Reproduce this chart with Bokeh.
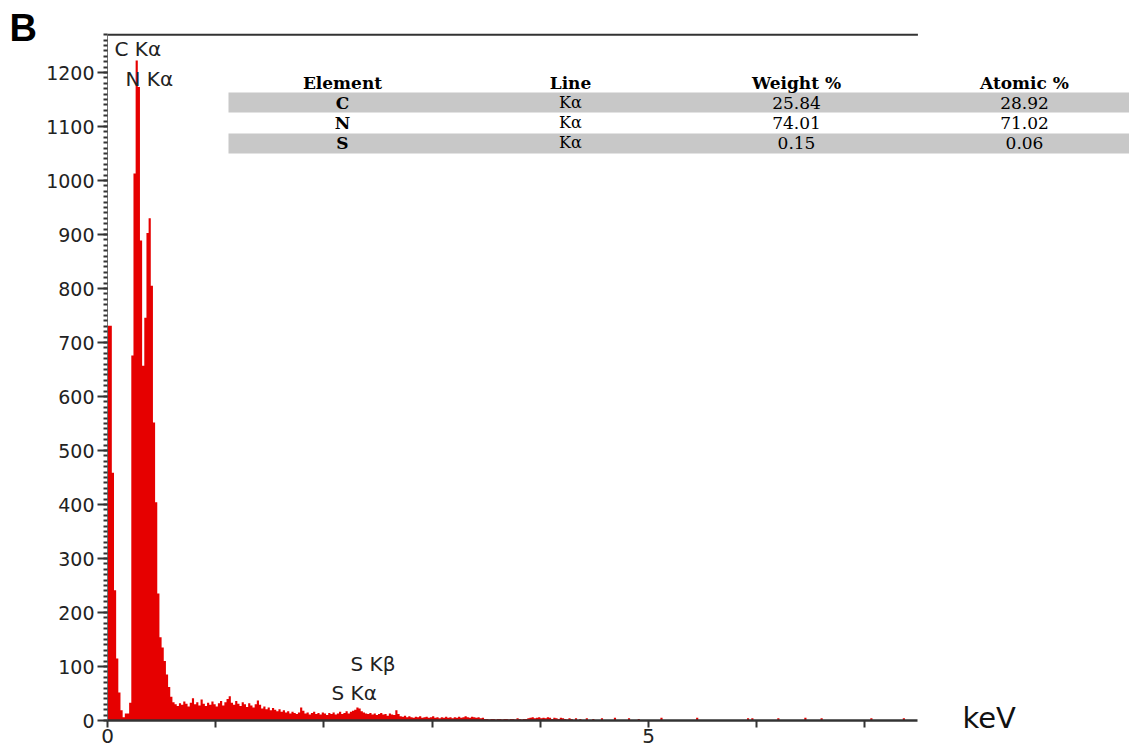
from bokeh.plotting import figure
from bokeh.models import Label, SingleIntervalTicker, FixedTicker, Range1d
from bokeh.embed import file_html
from bokeh.resources import INLINE

# ---------------- data ----------------
BIN_KEV = 0.02  # spectrum channel width
# counts per 0.02 keV channel, starting at 0.00 keV
counts = [
    731, 731, 459, 241, 115, 52, 19, 6, 13, 13,
    33, 676, 1013, 1222, 1173, 889, 657, 746, 903, 930,
    805, 552, 404, 235, 154, 135, 110, 85, 62, 44,
    34, 30, 27, 32, 29, 35, 31, 26, 33, 41,
    30, 34, 28, 39, 31, 27, 33, 29, 35, 30,
    26, 32, 36, 28, 34, 40, 45, 33, 29, 36,
    31, 27, 34, 30, 25, 32, 28, 24, 30, 37,
    29, 22, 26, 21, 24, 19, 23, 20, 17, 21,
    16, 19, 15, 17, 13, 16, 14, 12, 15, 24,
    18, 13, 15, 11, 14, 16, 12, 14, 11, 15,
    13, 10, 14, 12, 15, 11, 13, 16, 12, 14,
    17, 13, 16, 18, 20, 24, 22, 17, 15, 13,
    12, 14, 11, 13, 10, 12, 14, 11, 12, 9,
    13, 11, 10, 19, 12, 8, 7, 9, 6, 8,
    6, 5, 7, 6, 8, 5, 6, 7, 5, 6,
    8, 5, 6, 4, 6, 5, 7, 5, 6, 4,
    6, 5, 7, 5, 6, 8, 6, 5, 7, 6,
    5, 6, 4, 5, 3, 3, 2, 3, 3, 2,
    3, 3, 2, 3, 3, 2, 3, 3, 2, 4,
    3, 2, 3, 3, 4, 5, 6, 4, 5, 6,
    4, 5, 4, 6, 5, 3, 5, 4, 3, 5,
    4, 3, 2, 4, 3, 0, 4, 0, 3, 0,
    0, 4, 0, 0, 3, 0,
]
# isolated single-channel counts at high energy
trace_keV = [4.56, 4.68, 4.81, 4.90, 5.11, 5.44, 5.91, 5.95, 6.19, 6.44, 6.59, 7.05, 7.35]
trace_counts = [4, 5, 4, 3, 5, 5, 4, 4, 4, 5, 4, 4, 4]

x_tick_values = [0, 1, 2, 3, 4, 5, 6, 7]
x_tick_labels = {0: "0", 5: "5"}
X_AXIS_END = 7.49     # keV, end of drawn x axis
Y_AXIS_TOP = 1270     # counts, top of drawn y axis / top frame line

peak_labels = ["C K\u03b1", "N K\u03b1", "S K\u03b2", "S K\u03b1"]
table_header = ["Element", "Line", "Weight %", "Atomic %"]
elements = ["C", "N", "S"]
lines = ["K\u03b1", "K\u03b1", "K\u03b1"]
weight_pct = ["25.84", "74.01", "0.15"]
atomic_pct = ["28.92", "71.02", "0.06"]

# ---------------- layout helpers (image pixel -> data) ----------------
PX_PER_KEV = 108.2
PX_PER_COUNT = 0.54
X0_PX, Y0_PX = 107, 720


def kx(px):
    return (px - X0_PX) / PX_PER_KEV


def cy(py):
    return (Y0_PX - py) / PX_PER_COUNT


W, H = 1129, 746

# the frame fills the whole canvas; axes are pinned at the data origin
p = figure(width=W, height=H, x_range=Range1d(kx(0), kx(W)), y_range=Range1d(cy(H), cy(0)),
           output_backend="svg", toolbar_location=None,
           min_border_left=0, min_border_right=0, min_border_top=0, min_border_bottom=0)
p.outline_line_color = None
p.xgrid.visible = False
p.ygrid.visible = False
p.background_fill_color = "white"
p.border_fill_color = "white"

# ---------------- spectrum ----------------
xs = [i * BIN_KEV for i in range(len(counts))]
ys = list(counts)
for e, c in zip(trace_keV, trace_counts):
    xs += [e, e + BIN_KEV]
    ys += [c, 0]
p.varea_step(x=xs, y1=[0] * len(xs), y2=ys, step_mode="after", fill_color="#e60000")

# top frame line
p.line(x=[0, X_AXIS_END], y=[Y_AXIS_TOP, Y_AXIS_TOP], line_color="#333333", line_width=2)

# ---------------- axes ----------------
ya = p.yaxis[0]
ya.fixed_location = 0
ya.ticker = SingleIntervalTicker(interval=100, num_minor_ticks=10)
ya.bounds = (0, Y_AXIS_TOP)
ya.axis_line_color = "#777777"
ya.axis_line_width = 1
ya.major_tick_out = 10
ya.major_tick_in = 0
ya.major_tick_line_width = 2
ya.major_tick_line_color = "#333333"
ya.minor_tick_out = 4
ya.minor_tick_in = 0
ya.minor_tick_line_width = 2
ya.minor_tick_line_color = "#333333"
ya.major_label_text_font = "DejaVu Sans"
ya.major_label_text_font_size = "19px"
ya.major_label_text_color = "#222222"
ya.major_label_standoff = 3

xa = p.xaxis[0]
xa.fixed_location = 0
xa.ticker = FixedTicker(ticks=x_tick_values)
xa.bounds = (0, X_AXIS_END)
xa.axis_line_color = "#333333"
xa.axis_line_width = 2.5
xa.major_tick_out = 7
xa.major_tick_in = 0
xa.major_tick_line_width = 2
xa.major_tick_line_color = "#333333"
xa.minor_tick_out = 0
xa.major_label_overrides = {t: x_tick_labels.get(t, "") for t in x_tick_values}
xa.major_label_text_font = "DejaVu Sans"
xa.major_label_text_font_size = "20px"
xa.major_label_text_color = "#222222"
xa.major_label_standoff = 1


def add_text(text, px, py, font="DejaVu Sans", size="20px", style="normal",
             align="left", baseline="middle", color="#222222"):
    p.add_layout(Label(x=kx(px), y=cy(py), text=text, text_font=font,
                       text_font_size=size, text_font_style=style,
                       text_align=align, text_baseline=baseline, text_color=color))


# axis unit label
add_text("keV", 962, 717, size="29px", color="#111111")

# panel letter
add_text("B", 9, 27, font="Liberation Sans", size="38px", style="bold", color="#000000")

# peak labels
add_text(peak_labels[0], 114, 48, size="20px")
add_text(peak_labels[1], 125, 78, size="20px")
add_text(peak_labels[2], 350, 663, size="20px")
add_text(peak_labels[3], 331, 692, size="20px")

# ---------------- composition table ----------------
TABLE_LEFT, TABLE_RIGHT = 228, 1129
p.quad(left=[kx(TABLE_LEFT)] * 2, right=[kx(TABLE_RIGHT)] * 2,
       bottom=[cy(112), cy(153)], top=[cy(92), cy(133)],
       fill_color="#c8c8c8", line_color=None)
col_x = [342, 570, 796, 1024]
for cx_, h in zip(col_x, table_header):
    add_text(h, cx_, 82, font="DejaVu Serif", size="17px", style="bold",
             align="center", color="#000000")
row_y = [102, 122, 142]
for ry, el, ln, w, a in zip(row_y, elements, lines, weight_pct, atomic_pct):
    add_text(el, col_x[0], ry, font="DejaVu Serif", size="17px", style="bold",
             align="center", color="#000000")
    add_text(ln, col_x[1], ry, font="DejaVu Serif", size="16px",
             align="center", color="#000000")
    add_text(w, col_x[2], ry, font="DejaVu Serif", size="17px",
             align="center", color="#000000")
    add_text(a, col_x[3], ry, font="DejaVu Serif", size="17px",
             align="center", color="#000000")

open("out.html", "w").write(file_html(p, INLINE))
